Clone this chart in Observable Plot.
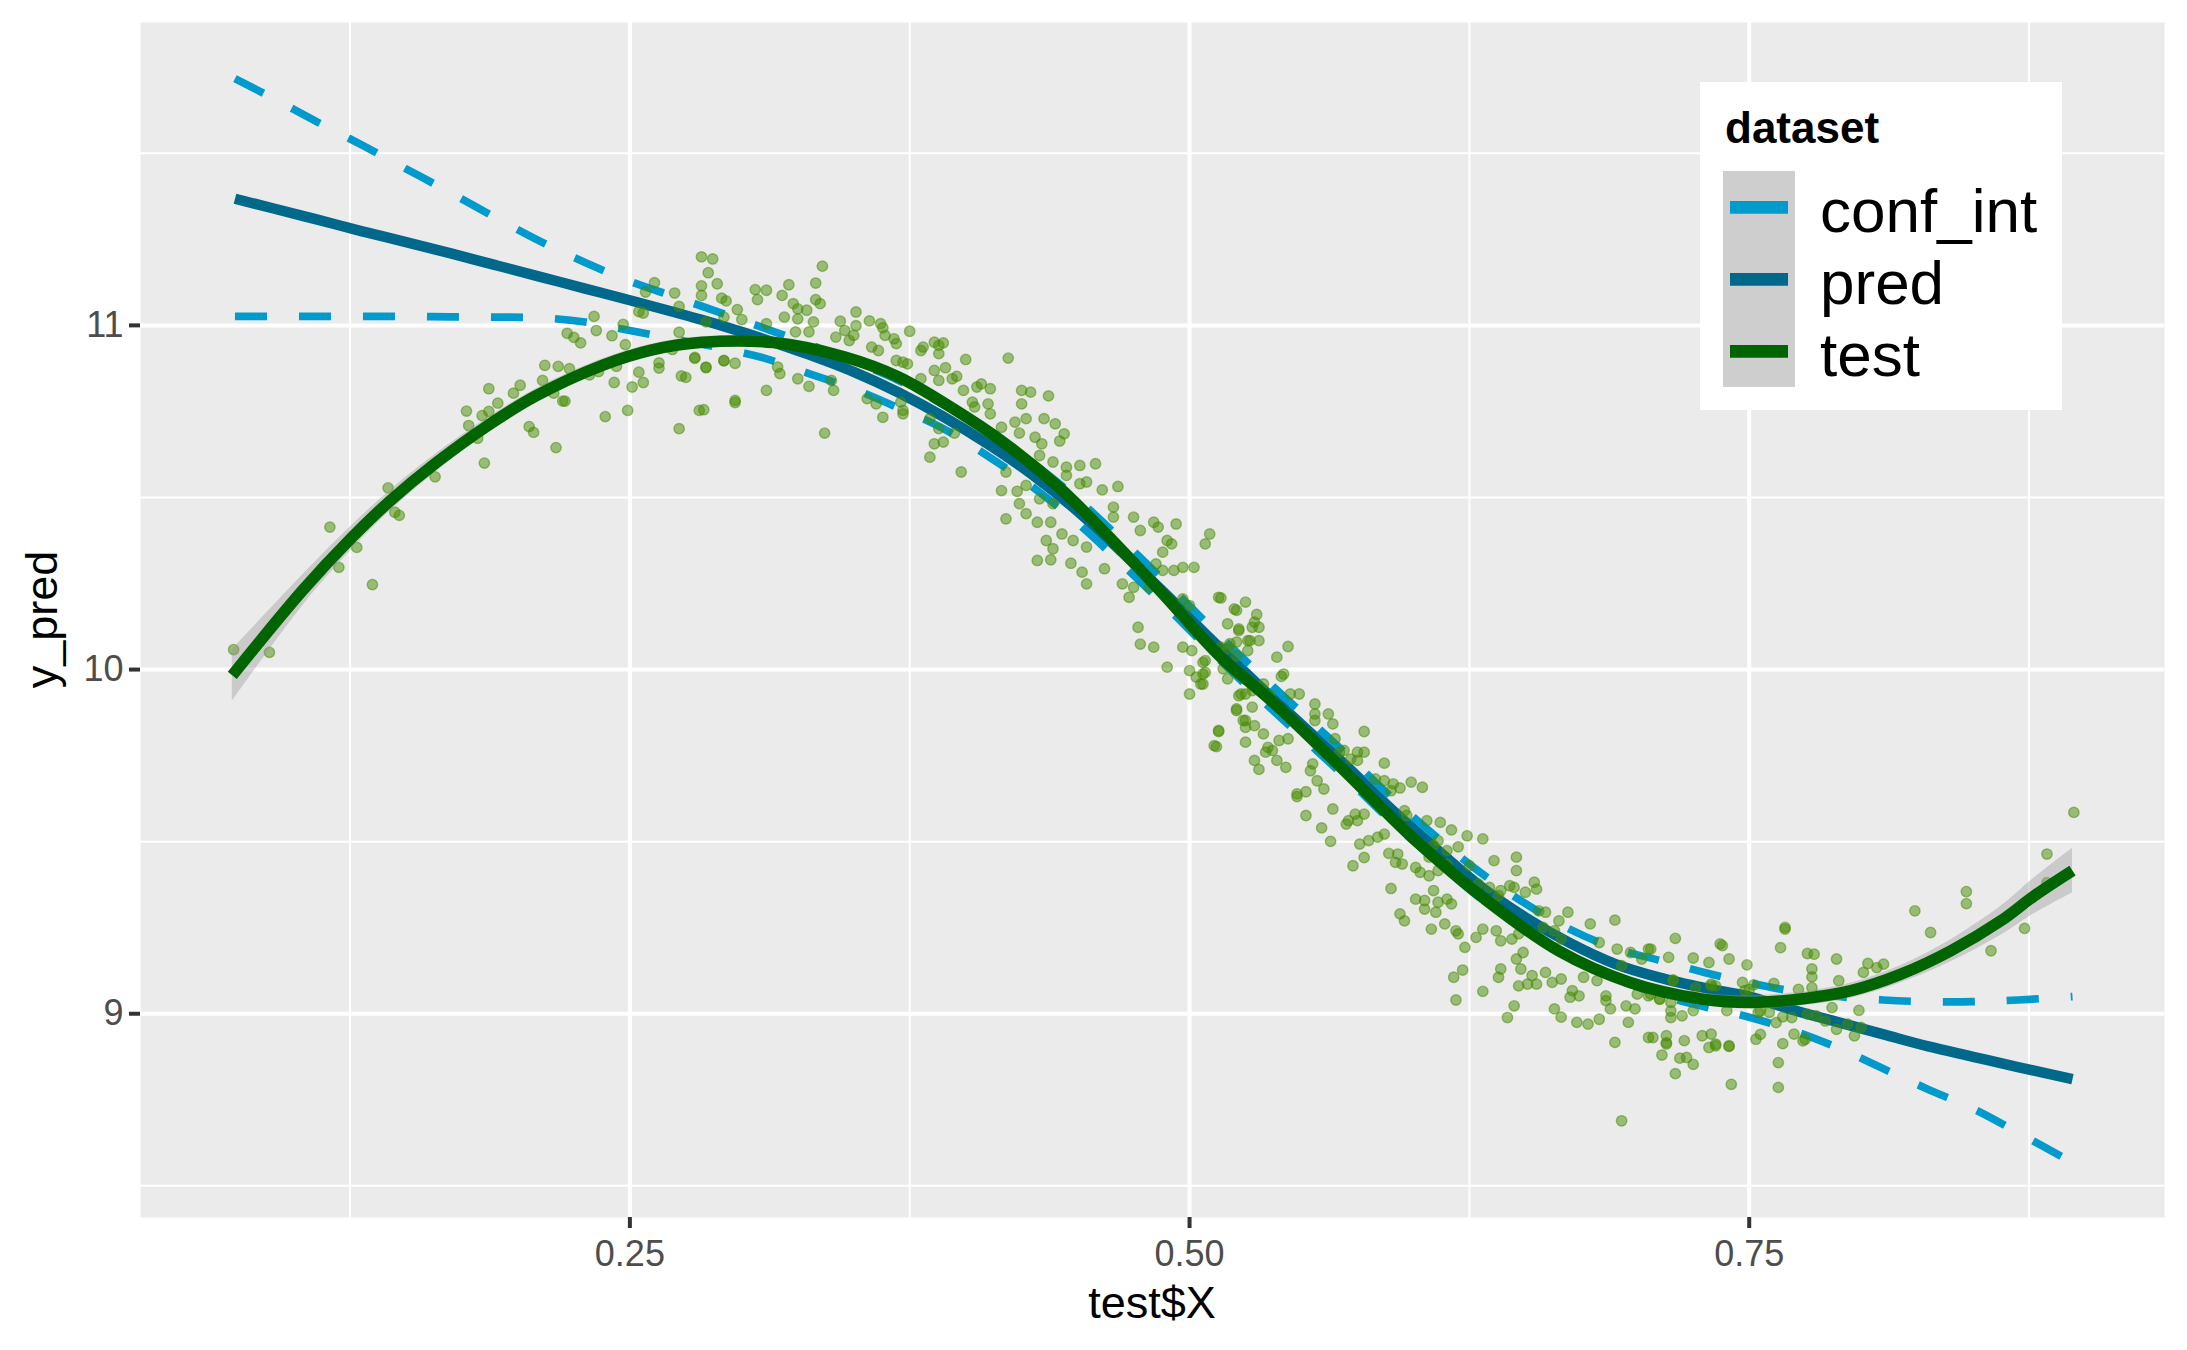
<!DOCTYPE html>
<html><head><meta charset="utf-8">
<script src="https://cdn.jsdelivr.net/npm/d3@7"></script>
<script src="https://cdn.jsdelivr.net/npm/@observablehq/plot@0.6"></script>
<style>html,body{margin:0;padding:0;background:#fff} svg{display:block}</style>
</head><body><div id="chart"></div>
<script>
// ---- data ----
const curveX = [0.0736,0.09,0.11,0.13,0.15,0.17,0.19,0.21,0.23,0.25,0.27,0.29,0.31,0.33,0.35,0.37,0.39,0.41,0.43,0.45,0.47,0.49,0.51,0.53,0.55,0.57,0.59,0.61,0.63,0.65,0.67,0.69,0.71,0.73,0.75,0.77,0.79,0.81,0.83,0.85,0.87,0.8944];
const predY  = [11.368,11.341,11.308,11.274,11.242,11.209,11.175,11.141,11.107,11.073,11.038,11.001,10.96,10.915,10.865,10.805,10.735,10.655,10.565,10.46,10.34,10.215,10.085,9.96,9.84,9.72,9.595,9.48,9.37,9.28,9.205,9.145,9.105,9.075,9.05,9.01,8.975,8.94,8.905,8.875,8.845,8.81];
const upperY = [11.717,11.662,11.592,11.525,11.455,11.385,11.313,11.244,11.183,11.128,11.083,11.038,10.992,10.945,10.895,10.84,10.77,10.69,10.60,10.495,10.375,10.25,10.12,9.995,9.875,9.755,9.63,9.515,9.41,9.32,9.245,9.19,9.155,9.12,9.09,9.065,9.05,9.04,9.035,9.035,9.04,9.05];
const lowerY = [11.026,11.026,11.026,11.026,11.026,11.025,11.024,11.022,11.01,10.985,10.96,10.935,10.905,10.86,10.815,10.76,10.70,10.62,10.53,10.425,10.305,10.18,10.05,9.925,9.805,9.685,9.56,9.445,9.335,9.245,9.165,9.105,9.055,9.02,8.99,8.95,8.90,8.84,8.78,8.724,8.655,8.567];

const smoothX  = [0.0724,0.1038,0.126,0.1427,0.1633,0.1856,0.208,0.2377,0.26,0.2824,0.3142,0.346,0.370,0.3939,0.4178,0.4416,0.4656,0.4895,0.5134,0.5373,0.5692,0.601,0.6329,0.6648,0.6967,0.7286,0.7509,0.7732,0.7955,0.8178,0.8401,0.8624,0.8774,0.8944];
const smoothY  = [9.983,10.23,10.385,10.489,10.60,10.705,10.795,10.884,10.929,10.951,10.950,10.908,10.85,10.76,10.656,10.53,10.375,10.21,10.04,9.905,9.706,9.503,9.328,9.183,9.091,9.043,9.033,9.043,9.067,9.115,9.183,9.27,9.343,9.416];
const smoothSE = [0.075,0.045,0.035,0.03,0.026,0.022,0.02,0.018,0.017,0.016,0.016,0.016,0.016,0.016,0.016,0.016,0.016,0.016,0.016,0.016,0.016,0.016,0.016,0.016,0.017,0.018,0.019,0.02,0.022,0.025,0.032,0.042,0.052,0.065];

const testXY = [
[0.073,10.058],[0.089,10.05],[0.116,10.414],[0.12,10.297],[0.128,10.355],[0.135,10.247],[0.142,10.528],[0.145,10.457],[0.147,10.448],[0.163,10.56],[0.177,10.751],[0.178,10.709],[0.184,10.738],[0.187,10.75],[0.182,10.672],[0.185,10.6],[0.187,10.816],[0.191,10.774],[0.198,10.803],[0.201,10.826],[0.205,10.706],[0.207,10.689],[0.212,10.884],[0.211,10.84],[0.216,10.803],[0.217,10.645],[0.218,10.881],[0.22,10.78],[0.221,10.78],[0.222,10.977],[0.225,10.965],[0.228,10.949],[0.223,10.874],[0.232,10.856],[0.236,10.866],[0.234,11.026],[0.235,10.985],[0.239,10.735],[0.242,10.97],[0.243,10.834],[0.244,10.881],[0.248,10.944],[0.247,11.003],[0.249,10.753],[0.251,10.821],[0.254,10.864],[0.256,10.834],[0.254,11.04],[0.256,11.036],[0.263,10.891],[0.263,10.876],[0.269,10.93],[0.272,11.055],[0.272,10.7],[0.273,10.853],[0.275,10.849],[0.272,10.98],[0.279,10.907],[0.281,10.753],
[0.282,11.199],[0.287,11.193],[0.285,11.153],[0.289,11.121],[0.282,11.115],[0.282,11.087],[0.261,11.124],[0.27,11.094],[0.257,11.097],[0.291,11.079],[0.293,11.071],[0.298,11.046],[0.3,11.017],[0.306,11.104],[0.307,11.075],[0.279,10.904],[0.284,10.877],[0.292,10.897],[0.297,10.89],[0.297,10.776],
[0.311,11.102],[0.321,11.118],[0.318,11.087],[0.333,11.123],[0.336,11.172],[0.333,11.075],[0.335,11.063],[0.323,11.063],[0.325,11.048],[0.329,11.044],[0.319,11.024],[0.325,11.019],[0.332,11.01],[0.33,10.981],[0.311,11.005],[0.324,10.981],[0.284,11.01],[0.292,11.024],[0.284,10.879],[0.292,10.898],[0.311,10.811],[0.297,10.782],[0.283,10.755],[0.316,10.879],[0.317,10.86],[0.325,10.845],[0.33,10.823],[0.337,10.687],[0.341,10.811],[0.34,10.84],[0.344,11.012],[0.346,10.985],[0.342,10.966],[0.348,10.956],[0.351,11.039],[0.351,10.999],[0.35,10.971],[0.357,11.013],[0.362,11.005],[0.363,10.993],[0.358,10.937],[0.361,10.927],[0.364,10.971],[0.368,10.961],[0.369,10.947],[0.369,10.898],[0.372,10.893],[0.374,10.888],[0.375,10.983],[0.38,10.927],[0.381,10.937],[0.386,10.951],[0.388,10.942],[0.39,10.949],[0.388,10.918],[0.386,10.869],[0.391,10.877],[0.38,10.845],[0.388,10.84],[0.394,10.845],[0.396,10.852],[0.4,10.901],[0.419,10.905],[0.399,10.811],[0.405,10.821],[0.407,10.83],[0.411,10.816],[0.403,10.777],[0.404,10.763],[0.41,10.772],[0.411,10.743],[0.425,10.811],[0.429,10.806],[0.437,10.795],[0.425,10.772],[0.356,10.787],[0.36,10.772],[0.363,10.733],[0.371,10.777],[0.372,10.753],[0.372,10.743],[0.384,10.729],[0.388,10.7],[0.395,10.687],[0.386,10.656],[0.39,10.661],[0.384,10.617],[0.398,10.574],[0.416,10.704],[0.422,10.719],[0.427,10.729],[0.424,10.687],[0.435,10.729],[0.44,10.714],[0.444,10.685],[0.442,10.664],[0.431,10.675],[0.434,10.656],[0.433,10.622],[0.451,10.593],[0.458,10.598],[0.439,10.603],[0.445,10.588],[0.445,10.564],[0.451,10.54],[0.454,10.545],[0.461,10.522],[0.468,10.532],[0.418,10.574],[0.416,10.52],[0.423,10.518],[0.427,10.535],[0.424,10.482],[0.427,10.453],[0.433,10.496],[0.439,10.482],[0.418,10.438],[0.432,10.428],[0.438,10.428],[0.443,10.394],[0.448,10.375],[0.454,10.356],[0.436,10.375],[0.439,10.351],[0.432,10.317],[0.438,10.319],[0.447,10.309],[0.452,10.283],[0.454,10.249],[0.462,10.293],[0.466,10.472],[0.466,10.443],[0.475,10.443],[0.478,10.404],[0.484,10.428],[0.486,10.414],[0.494,10.423],[0.49,10.375],[0.492,10.365],[0.488,10.341],[0.509,10.394],[0.507,10.365],[0.47,10.249],[0.473,10.21],[0.475,10.239],[0.477,10.123],[0.478,10.074],[0.484,10.065],[0.49,10.007],[0.482,10.239],[0.485,10.307],[0.488,10.288],[0.493,10.288],[0.497,10.297],[0.502,10.297],[0.497,10.205],[0.5,10.186],[0.498,10.152],[0.497,10.065],[0.501,10.055],[0.5,9.997],[0.503,9.978],[0.505,9.958],[0.5,9.929],[0.506,10.021],[0.507,9.992],[0.513,10.21],[0.52,10.176],[0.525,10.196],[0.517,10.133],[0.522,10.118],[0.528,10.123],[0.514,10.065],[0.518,10.075],[0.521,10.04],[0.526,10.084],[0.531,10.084],[0.521,9.881],[0.525,9.852],[0.525,9.789],[0.513,9.823],[0.511,9.779],[0.523,9.929],[0.528,9.939],
[0.514,10.208],[0.521,10.172],[0.53,10.16],[0.529,10.138],[0.531,10.123],[0.522,10.113],[0.527,10.084],[0.521,10.08],[0.517,10.06],[0.526,10.055],[0.507,10.026],[0.506,9.987],[0.506,9.958],[0.515,10.002],[0.517,9.973],[0.522,9.924],[0.525,9.929],[0.521,9.886],[0.528,9.891],[0.524,9.852],[0.525,9.832],[0.529,9.837],[0.533,9.813],[0.535,9.774],[0.54,9.794],[0.544,9.799],[0.529,9.736],[0.531,9.71],[0.539,9.736],[0.543,9.716],[0.513,9.82],[0.512,9.776],[0.534,9.76],[0.537,9.765],[0.533,9.958],[0.532,9.939],[0.536,9.924],[0.539,10.036],[0.542,9.987],[0.541,9.98],[0.544,10.067],[0.545,9.929],[0.549,9.929],[0.556,9.9],[0.556,9.871],[0.556,9.852],[0.562,9.871],[0.564,9.842],[0.565,9.799],[0.554,9.706],[0.555,9.726],[0.557,9.677],[0.56,9.653],[0.548,9.639],[0.552,9.645],[0.548,9.631],[0.552,9.576],[0.559,9.54],[0.563,9.501],[0.564,9.595],[0.571,9.561],[0.57,9.551],[0.567,9.76],[0.569,9.765],[0.575,9.76],[0.578,9.76],[0.578,9.82],[0.572,9.74],[0.575,9.736],[0.587,9.728],[0.583,9.682],[0.587,9.677],[0.591,9.668],[0.594,9.656],[0.599,9.673],[0.604,9.658],[0.59,9.648],[0.596,9.59],[0.597,9.576],[0.574,9.58],[0.578,9.58],[0.575,9.561],[0.576,9.493],[0.58,9.503],[0.584,9.513],[0.578,9.454],[0.573,9.43],[0.587,9.522],[0.589,9.466],[0.593,9.464],[0.592,9.44],[0.595,9.435],[0.603,9.411],[0.601,9.425],[0.59,9.364],[0.606,9.561],[0.612,9.556],[0.617,9.534],[0.62,9.485],[0.611,9.503],[0.609,9.489],[0.615,9.474],[0.624,9.517],[0.631,9.508],[0.607,9.455],[0.611,9.416],[0.615,9.435],[0.607,9.401],[0.601,9.333],[0.605,9.329],[0.609,9.358],[0.611,9.324],[0.615,9.333],[0.617,9.319],[0.605,9.304],[0.61,9.295],[0.594,9.29],[0.596,9.27],[0.608,9.246],[0.614,9.261],[0.619,9.241],[0.62,9.232],[0.623,9.193],[0.618,9.106],[0.622,9.127],[0.619,9.04],[0.625,9.43],[0.629,9.377],[0.634,9.367],[0.636,9.445],[0.646,9.455],[0.646,9.416],[0.643,9.372],[0.645,9.367],[0.65,9.353],[0.654,9.382],[0.655,9.362],[0.639,9.358],[0.638,9.343],[0.631,9.246],[0.628,9.222],[0.637,9.241],[0.639,9.212],[0.644,9.217],[0.647,9.232],[0.649,9.178],[0.646,9.159],[0.648,9.13],[0.639,9.13],[0.638,9.106],[0.631,9.065],[0.642,8.989],[0.645,9.023],[0.647,9.081],[0.651,9.086],[0.655,9.086],[0.653,9.111],[0.659,9.12],[0.662,9.091],[0.656,9.299],[0.659,9.295],[0.665,9.27],[0.669,9.295],[0.658,9.251],[0.663,9.241],[0.666,9.217],[0.666,9.101],[0.671,9.067],[0.674,9.052],[0.67,9.048],[0.663,9.014],[0.666,8.99],[0.673,8.975],[0.678,8.97],[0.683,8.984],[0.676,9.106],[0.682,9.096],[0.686,9.038],[0.688,9.014],[0.686,9.052],[0.679,9.261],[0.683,9.207],[0.69,9.272],[0.691,9.188],[0.697,9.178],[0.693,9.14],[0.702,9.159],[0.705,9.188],[0.695,9.023],[0.699,9.014],[0.696,8.975],[0.69,8.917],[0.7,9.057],[0.705,9.052],[0.71,9.043],[0.715,9.033],[0.705,8.931],[0.713,8.936],[0.713,8.912],[0.721,8.922],[0.729,8.936],[0.733,8.941],[0.735,8.912],[0.741,8.907],[0.714,9.164],[0.717,9.219],[0.725,9.162],[0.732,9.149],[0.737,9.203],[0.738,9.198],[0.741,9.159],[0.749,9.142],[0.716,9.096],[0.726,9.076],[0.733,9.086],[0.725,9.009],[0.74,9.009],[0.754,9.004],[0.753,8.926],[0.693,8.689],
[0.706,9.188],[0.706,9.057],[0.71,9.042],[0.716,9.098],[0.715,9.008],[0.72,8.994],[0.715,8.989],[0.733,9.081],[0.735,9.081],[0.747,9.091],[0.752,9.084],[0.748,9.067],[0.75,9.071],[0.755,9.008],[0.759,9.004],[0.762,8.974],[0.765,8.991],[0.769,8.989],[0.772,9.071],[0.761,9.088],[0.766,9.246],[0.766,9.251],[0.764,9.192],[0.776,9.175],[0.779,9.173],[0.778,9.13],[0.778,9.107],[0.778,9.076],[0.776,8.999],[0.78,8.994],[0.784,8.979],[0.789,8.955],[0.77,8.941],[0.774,8.921],[0.775,8.926],[0.755,8.94],[0.763,8.858],[0.763,8.786],[0.765,8.913],[0.742,8.795],[0.707,8.931],[0.713,8.916],[0.717,8.826],[0.711,8.88],[0.732,8.902],[0.735,8.907],[0.741,8.905],[0.725,8.853],[0.722,8.873],[0.719,8.871],[0.787,9.018],[0.789,9.159],[0.79,9.096],[0.797,8.936],[0.8,8.96],[0.794,8.97],[0.799,9.01],[0.801,9.12],[0.803,9.146],[0.807,9.134],[0.81,9.144],[0.824,9.299],[0.831,9.236],[0.847,9.355],[0.847,9.32],[0.858,9.183],[0.873,9.248],[0.883,9.464],[0.895,9.585],[0.883,9.381]
];

const legendTitle = "dataset";
const legendLabels = ["conf_int", "pred", "test"];
const legendColors = ["#009ACD", "#00688B", "#006400"];
const xTicks = [0.25, 0.5, 0.75];
const xMinor = [0.125, 0.375, 0.625, 0.875];
const yTicks = [9, 10, 11];
const yMinor = [8.5, 9.5, 10.5, 11.5];
const xTitle = "test$X";
const yTitle = "y_pred";

// ---- build tables ----
const band = curveX.map((x, i) => ({x, pred: predY[i], upper: upperY[i], lower: lowerY[i]}));
const smooth = smoothX.map((x, i) => ({x, y: smoothY[i], lo: smoothY[i] - smoothSE[i], hi: smoothY[i] + smoothSE[i]}));
const pts = testXY.map(([x, y]) => ({x, y}));

const W = 2187, H = 1350;
const mL = 140, mR = 23, mT = 22, mB = 133;
const FONT = "'Liberation Sans', Arial, Helvetica, sans-serif";

const plot = Plot.plot({
  width: W, height: H,
  marginLeft: mL, marginRight: mR, marginTop: mT, marginBottom: mB,
  style: {fontFamily: FONT, background: "#ffffff", overflow: "visible"},
  x: {domain: [0.0314, 0.9355], label: null},
  y: {domain: [8.408, 11.88], label: null},
  marks: [
    Plot.frame({fill: "#EBEBEB", stroke: "none"}),
    Plot.gridX(xMinor, {stroke: "#ffffff", strokeOpacity: 1, strokeWidth: 2}),
    Plot.gridY(yMinor, {stroke: "#ffffff", strokeOpacity: 1, strokeWidth: 2}),
    Plot.gridX(xTicks, {stroke: "#ffffff", strokeOpacity: 1, strokeWidth: 4}),
    Plot.gridY(yTicks, {stroke: "#ffffff", strokeOpacity: 1, strokeWidth: 4}),
    Plot.line(band, {x: "x", y: "pred", stroke: legendColors[1], strokeWidth: 10.5, curve: "catmull-rom", strokeLinecap: "butt"}),
    Plot.line(band, {x: "x", y: "upper", stroke: legendColors[0], strokeWidth: 7.7, strokeDasharray: "32,32", curve: "catmull-rom", strokeLinecap: "butt"}),
    Plot.line(band, {x: "x", y: "lower", stroke: legendColors[0], strokeWidth: 7.7, strokeDasharray: "32,32", curve: "catmull-rom", strokeLinecap: "butt"}),
    Plot.dot(pts, {x: "x", y: "y", r: 5.2, fill: "#458B00", fillOpacity: 0.5, stroke: "#458B00", strokeOpacity: 0.5, strokeWidth: 1.4}),
    Plot.areaY(smooth, {x: "x", y1: "lo", y2: "hi", fill: "#999999", fillOpacity: 0.4, curve: "catmull-rom"}),
    Plot.line(smooth, {x: "x", y: "y", stroke: legendColors[2], strokeWidth: 11.5, curve: "catmull-rom", strokeLinecap: "butt"}),
    Plot.axisX(xTicks, {tickSize: 11, tickPadding: 12, tickFormat: d3.format(".2f"), fontSize: 36, stroke: "#333333", strokeWidth: 4, fill: "#4D4D4D", label: null}),
    Plot.axisY(yTicks, {tickSize: 11, tickPadding: 6, tickFormat: d => String(d), fontSize: 36, stroke: "#333333", strokeWidth: 4, fill: "#4D4D4D", label: null})
  ]
});

const svg = d3.select(plot);
// axis titles
svg.append("text").attr("x", (mL + W - mR) / 2).attr("y", 1318)
  .attr("text-anchor", "middle").attr("font-size", 45).attr("font-family", FONT).attr("fill", "#000").text(xTitle);
svg.append("text").attr("transform", `translate(57,${(mT + H - mB) / 2}) rotate(-90)`)
  .attr("text-anchor", "middle").attr("font-size", 45).attr("font-family", FONT).attr("fill", "#000").text(yTitle);

// legend (inside panel, top right)
const lg = svg.append("g").attr("text-anchor", "start");
lg.append("rect").attr("x", 1700).attr("y", 82).attr("width", 362).attr("height", 328).attr("fill", "#ffffff");
lg.append("text").attr("x", 1725).attr("y", 143).attr("font-size", 44).attr("font-weight", "bold")
  .attr("text-anchor", "start").attr("font-family", FONT).attr("fill", "#000").text(legendTitle);
lg.append("rect").attr("x", 1723).attr("y", 171).attr("width", 72).attr("height", 216).attr("fill", "#CECECE");
legendLabels.forEach((lab, i) => {
  const cy = 207.3 + i * 72;
  lg.append("line").attr("x1", 1730).attr("x2", 1788).attr("y1", cy).attr("y2", cy)
    .attr("stroke", legendColors[i]).attr("stroke-width", 12.7);
  lg.append("text").attr("x", 1820).attr("y", cy + 24.5).attr("font-size", 62)
    .attr("text-anchor", "start").attr("font-family", FONT).attr("fill", "#000").text(lab);
});

document.getElementById("chart").appendChild(plot);
</script>
</body></html>
